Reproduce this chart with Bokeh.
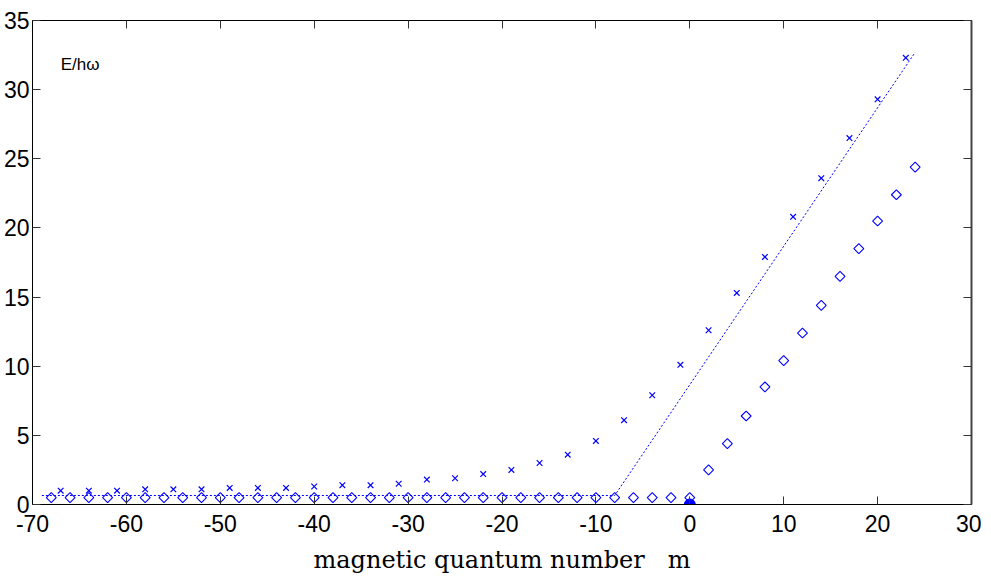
from bokeh.plotting import figure
from bokeh.models import LinearAxis, Label, FixedTicker, Range1d
from bokeh.embed import file_html
from bokeh.resources import INLINE
import math

# ---- data ----
m_diamond = [-68, -66, -64, -62, -60, -58, -56, -54, -52, -50, -48, -46, -44, -42,
             -40, -38, -36, -34, -32, -30, -28, -26, -24, -22, -20, -18, -16, -14,
             -12, -10, -8, -6, -4, -2, 0,
             2, 4, 6, 8, 10, 12, 14, 16, 18, 20, 22, 24]
E_diamond = [0.5, 0.5, 0.5, 0.5, 0.5, 0.5, 0.5, 0.5, 0.5, 0.5, 0.5, 0.5, 0.5, 0.5,
             0.5, 0.5, 0.5, 0.5, 0.5, 0.5, 0.5, 0.5, 0.5, 0.5, 0.5, 0.5, 0.5, 0.5,
             0.5, 0.5, 0.5, 0.5, 0.5, 0.5, 0.5,
             2.5, 4.4, 6.4, 8.5, 10.4, 12.4, 14.4, 16.5, 18.5, 20.5, 22.4, 24.4]

m_cross = [-67, -64, -61, -58, -55, -52, -49, -46, -43, -40, -37, -34, -31, -28,
           -25, -22, -19, -16, -13, -10, -7, -4, -1, 2, 5, 8, 11, 14, 17, 20, 23]
E_cross = [1.0, 1.0, 1.0, 1.1, 1.1, 1.1, 1.2, 1.2, 1.2, 1.3, 1.4, 1.4, 1.5, 1.8,
           1.9, 2.2, 2.5, 3.0, 3.6, 4.6, 6.1, 7.9, 10.1, 12.6, 15.3, 17.9, 20.8,
           23.6, 26.5, 29.3, 32.3]

m_line = [-69, -8, 24]
E_line = [0.65, 0.65, 32.7]

m_origin = [0]
E_origin = [0]

x_ticks = [-70, -60, -50, -40, -30, -20, -10, 0, 10, 20, 30]
y_ticks = [0, 5, 10, 15, 20, 25, 30, 35]
x_tick_labels = ["-70", "-60", "-50", "-40", "-30", "-20", "-10", "0", "10", "20", "30"]
y_tick_labels = ["0", "5", "10", "15", "20", "25", "30", "35"]

x_title = "magnetic quantum number\u00a0\u00a0\u00a0m"
energy_label = "E/h\u03c9"

BLUE = "#0000ff"
TICK_FONT = "Liberation Sans"

p = figure(frame_width=939, frame_height=484,
           x_range=Range1d(-70, 30), y_range=Range1d(0, 35),
           output_backend="svg", toolbar_location=None,
           min_border_left=26, min_border_right=10,
           min_border_top=20, min_border_bottom=66)
p.xgrid.visible = False
p.ygrid.visible = False
p.outline_line_color = "black"
p.outline_line_width = 1
p.background_fill_color = "white"
p.border_fill_color = "white"


def style_axis(ax, ticks, labels=None):
    ax.ticker = FixedTicker(ticks=ticks)
    ax.minor_tick_line_color = None
    ax.major_tick_in = 8
    ax.major_tick_out = 0
    ax.major_tick_line_color = "#333333"
    ax.axis_line_color = "black"
    ax.axis_line_width = 1
    if labels is not None:
        ax.major_label_overrides = {t: s for t, s in zip(ticks, labels)}
        ax.major_label_text_font = TICK_FONT
        ax.major_label_text_font_size = "23px"
        ax.major_label_text_color = "black"
    else:
        ax.major_label_text_color = None
        ax.major_label_text_font_size = "1px"
        ax.major_label_standoff = 0


style_axis(p.xaxis[0], x_ticks, x_tick_labels)
style_axis(p.yaxis[0], y_ticks, y_tick_labels)
p.xaxis[0].major_label_standoff = 10
p.yaxis[0].major_label_standoff = 3
p.xaxis[0].axis_label = x_title
p.xaxis[0].axis_label_text_font = "DejaVu Serif"
p.xaxis[0].axis_label_text_font_style = "normal"
p.xaxis[0].axis_label_text_font_size = "24px"
p.xaxis[0].axis_label_standoff = 11
p.xaxis[0].axis_label_text_color = "black"

top_axis = LinearAxis()
style_axis(top_axis, x_ticks)
p.add_layout(top_axis, "above")
right_axis = LinearAxis()
style_axis(right_axis, y_ticks)
right_axis.axis_line_width = 2
right_axis.axis_line_color = "#444444"
p.add_layout(right_axis, "right")

# dotted guide line
p.line(m_line, E_line, line_color=BLUE, line_width=1, line_dash="2 2")

# diamonds
p.scatter(m_diamond, E_diamond, marker="square", size=7, angle=math.pi / 4,
          fill_color=None, line_color=BLUE, line_width=1.1)

# crosses
p.scatter(m_cross, E_cross, marker="x", size=8,
          line_color=BLUE, line_width=1.2)

# filled dot at origin
p.scatter(m_origin, E_origin, marker="circle", size=11,
          fill_color=BLUE, line_color=BLUE)

p.add_layout(Label(x=-67, y=31.8, text=energy_label,
                   text_font="Liberation Sans", text_font_size="17px",
                   text_baseline="middle", text_color="black"))

open("out.html", "w").write(file_html(p, INLINE))
